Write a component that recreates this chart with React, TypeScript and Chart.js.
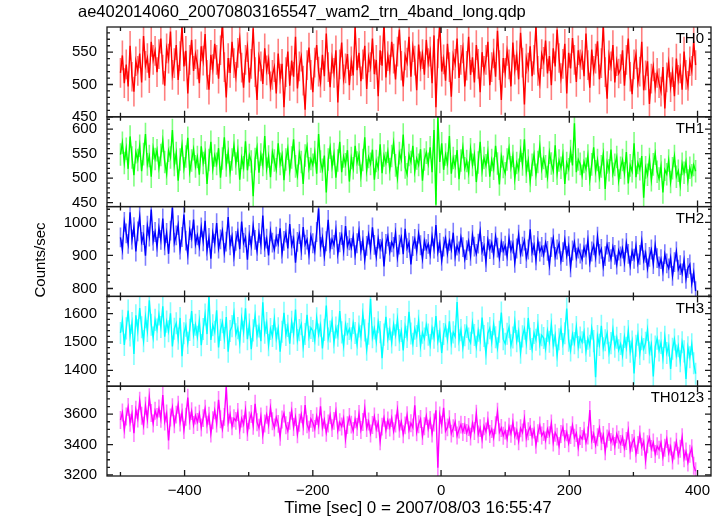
import React, { useEffect, useRef } from 'react';
import { Chart, registerables } from 'chart.js';

Chart.register(...registerables);

const TITLE = 'ae402014060_20070803165547_wam2_trn_4band_long.qdp';
const X_LABEL = 'Time [sec] 0 = 2007/08/03 16:55:47';
const Y_LABEL = 'Counts/sec';

const T_START = -500;
const T_STEP = 3;

const TH0 = [
  518, 545, 502, 531, 497, 560, 512, 489, 536, 521, 548, 503, 575, 529, 541, 510, 566, 538, 552, 519,
  547, 571, 523, 498, 556, 540, 582, 515, 533, 561, 507, 544, 590, 528, 552, 486, 538, 569, 521, 547,
  531, 502, 559, 537, 578, 515, 492, 546, 524, 563, 538, 509, 553, 595, 527, 480, 541, 518, 566, 533,
  512, 549, 571, 526, 495, 538, 558, 503, 532, 587, 519, 476, 543, 528, 501, 556, 522, 539, 497, 515,
  527, 486, 548, 509, 532, 465, 519, 551, 498, 537, 512, 574, 494, 528, 543, 506, 461, 530, 557, 515,
  488, 534, 561, 520, 503, 546, 513, 579, 527, 496, 540, 518, 553, 472, 531, 565, 508, 525, 547, 499,
  536, 514, 589, 522, 549, 505, 531, 560, 493, 542, 527, 571, 516, 538, 482, 553, 529, 597, 511, 544,
  523, 566, 540, 508, 551, 585, 529, 497, 545, 534, 574, 512, 558, 537, 491, 562, 528, 547, 515, 569,
  533, 551, 502, 576, 465, 548, 597, 520, 539, 506, 563, 527, 481, 545, 532, 571, 510, 538, 556, 497,
  529, 574, 515, 542, 503, 561, 532, 488, 550, 521, 538, 566, 499, 527, 548, 512, 583, 530, 476, 541,
  518, 552, 531, 497, 565, 523, 545, 508, 580, 534, 469, 540, 526, 559, 513, 538, 591, 521, 502, 547,
  535, 568, 517, 544, 499, 556, 528, 585, 541, 510, 532, 563, 486, 549, 525, 572, 538, 504, 553, 531,
  546, 513, 579, 530, 495, 554, 521, 540, 567, 508, 533, 592, 519, 478, 545, 528, 561, 503, 536, 517,
  524, 553, 498, 538, 571, 512, 485, 531, 547, 503, 520, 566, 491, 514, 536, 470, 509, 528, 495, 518,
  502, 489, 527, 463, 511, 534, 496, 519, 482, 540, 507, 525, 492, 551, 515, 498, 536, 521, 567, 530,
];

const TH1 = [
  548, 572, 531, 560, 519, 585, 542, 506, 553, 537, 566, 514, 549, 590, 528, 545, 503, 561, 539, 557,
  521, 547, 576, 533, 509, 556, 542, 598, 527, 551, 495, 538, 567, 520, 544, 582, 513, 536, 559, 524,
  543, 507, 565, 531, 552, 488, 537, 574, 519, 546, 529, 561, 501, 540, 583, 526, 553, 512, 538, 567,
  530, 556, 497, 541, 522, 575, 516, 547, 534, 463, 539, 562, 511, 548, 527, 586, 519, 544, 502, 553,
  536, 518, 571, 529, 547, 496, 538, 560, 515, 542, 579, 524, 505, 551, 533, 488, 546, 565, 520, 539,
  527, 553, 509, 590, 534, 517, 546, 471, 538, 562, 523, 549, 501, 536, 574, 512, 544, 528, 557, 493,
  541, 520, 566, 532, 548, 505, 537, 583, 516, 543, 529, 558, 497, 535, 521, 569, 510, 546, 531, 554,
  518, 545, 572, 526, 500, 551, 537, 589, 522, 508, 547, 533, 566, 514, 540, 527, 559, 495, 538, 552,
  529, 563, 512, 598, 446, 625, 533, 571, 517, 548, 530, 586, 509, 541, 524, 557, 498, 536, 563, 520,
  535, 511, 559, 527, 548, 492, 532, 574, 515, 541, 526, 553, 503, 537, 519, 566, 530, 487, 544, 523,
  510, 538, 561, 522, 545, 499, 531, 517, 556, 528, 579, 513, 536, 494, 527, 548, 507, 533, 565, 519,
  541, 524, 502, 552, 530, 515, 567, 509, 536, 521, 547, 488, 531, 518, 555, 526, 612, 512, 538, 529,
  505, 533, 519, 546, 497, 528, 563, 514, 537, 501, 524, 549, 478, 532, 516, 558, 509, 527, 543, 495,
  521, 537, 510, 553, 489, 526, 514, 571, 502, 531, 518, 545, 460, 522, 507, 539, 496, 528, 550, 513,
  499, 524, 471, 517, 508, 536, 492, 520, 545, 503, 515, 486, 529, 511, 533, 495, 521, 506, 527, 514,
];

const TH2 = [
  955, 918, 1002, 967, 935, 1031, 948, 986, 912, 973, 1018, 941, 962, 899, 990, 957, 1039, 944, 971, 926,
  983, 947, 1012, 931, 968, 905, 975, 1045, 939, 961, 992, 918, 956, 1024, 945, 903, 977, 952, 1009, 934,
  961, 927, 985, 943, 1005, 915, 953, 890, 968, 936, 998, 921, 949, 975, 908, 942, 1016, 931, 958, 897,
  944, 972, 919, 1003, 938, 955, 887, 962, 929, 990, 947, 913, 968, 934, 1021, 925, 951, 900, 973, 939,
  918, 957, 935, 982, 906, 944, 969, 921, 995, 930, 952, 878, 941, 965, 916, 986, 933, 948, 903, 960,
  937, 912, 971, 1042, 926, 955, 898, 943, 1008, 921, 949, 932, 976, 905, 940, 962, 915, 989, 928, 946,
  923, 958, 901, 937, 974, 914, 946, 887, 929, 963, 918, 985, 932, 896, 951, 920, 942, 867, 935, 958,
  911, 940, 926, 968, 895, 933, 955, 904, 981, 922, 939, 873, 928, 950, 913, 966, 931, 890, 944, 919,
  935, 903, 958, 921, 992, 910, 938, 884, 927, 952, 906, 944, 918, 969, 897, 930, 912, 955, 925, 888,
  916, 943, 899, 962, 927, 905, 936, 973, 911, 929, 880, 947, 919, 938, 901, 958, 924, 892, 940, 913,
  930, 897, 952, 915, 936, 878, 921, 963, 904, 927, 945, 892, 918, 979, 909, 931, 885, 944, 912, 926,
  901, 939, 914, 870, 925, 952, 896, 918, 936, 883, 910, 947, 899, 928, 864, 915, 940, 893, 921, 906,
  888, 924, 903, 946, 879, 912, 931, 894, 957, 905, 920, 866, 898, 933, 911, 889, 926, 902, 872, 915,
  897, 921, 880, 938, 905, 869, 913, 890, 929, 876, 902, 944, 885, 908, 861, 896, 918, 874, 931, 892,
  867, 889, 852, 904, 876, 861, 893, 838, 880, 912, 857, 871, 846, 885, 829, 862, 873, 815, 848, 792,
];

const TH3 = [
  1532, 1575, 1490, 1548, 1611, 1523, 1567, 1458, 1594, 1541, 1620, 1552, 1503, 1588, 1539, 1647, 1561, 1516, 1578, 1544,
  1597, 1553, 1626, 1519, 1572, 1538, 1601, 1484, 1547, 1566, 1512, 1585, 1450, 1531, 1558, 1497, 1543, 1609, 1525, 1561,
  1518, 1574, 1489, 1546, 1597, 1528, 1665, 1507, 1559, 1536, 1612, 1481, 1543, 1570, 1514, 1588, 1466, 1539, 1556, 1602,
  1527, 1549, 1498, 1583, 1536, 1619, 1510, 1562, 1475, 1541, 1593, 1522, 1555, 1503, 1640, 1533, 1567, 1489, 1546, 1521,
  1580, 1512, 1548, 1466, 1536, 1603, 1525, 1557, 1494, 1571, 1530, 1615, 1507, 1542, 1563, 1483, 1528, 1596, 1518, 1550,
  1539, 1505, 1584, 1526, 1558, 1477, 1543, 1629, 1512, 1537, 1574, 1498, 1551, 1522, 1609, 1534, 1487, 1561, 1529, 1546,
  1513, 1567, 1532, 1491, 1555, 1520, 1598, 1541, 1473, 1529, 1652, 1517, 1548, 1502, 1570, 1535, 1443, 1526, 1589, 1511,
  1545, 1498, 1562, 1524, 1581, 1507, 1539, 1470, 1553, 1518, 1607, 1530, 1494, 1547, 1521, 1575, 1486, 1533, 1512, 1560,
  1526, 1489, 1548, 1515, 1592, 1503, 1537, 1461, 1528, 1556, 1509, 1573, 1495, 1534, 1519, 1641, 1506, 1542, 1481, 1524,
  1553, 1512, 1497, 1568, 1525, 1483, 1540, 1506, 1586, 1521, 1459, 1531, 1549, 1500, 1563, 1517, 1478, 1536, 1604, 1510,
  1494, 1529, 1552, 1488, 1516, 1571, 1503, 1538, 1462, 1520, 1547, 1496, 1585, 1511, 1475, 1532, 1508, 1560, 1491, 1524,
  1514, 1476, 1539, 1501, 1562, 1488, 1523, 1452, 1510, 1546, 1493, 1531, 1618, 1505, 1470, 1527, 1496, 1553, 1482, 1516,
  1499, 1535, 1468, 1512, 1487, 1548, 1503, 1376, 1521, 1490, 1557, 1478, 1506, 1531, 1462, 1496, 1544, 1483, 1515, 1471,
  1493, 1452, 1518, 1480, 1539, 1466, 1502, 1389, 1487, 1526, 1458, 1510, 1475, 1497, 1543, 1463, 1491, 1378, 1484, 1512,
  1470, 1497, 1443, 1518, 1461, 1488, 1405, 1476, 1509, 1452, 1485, 1432, 1499, 1467, 1370, 1481, 1446, 1492, 1425, 1388,
];

const TH0123 = [
  3562, 3611, 3498, 3585, 3647, 3543, 3602, 3475, 3629, 3571, 3688, 3590, 3524, 3655, 3566, 3712, 3608, 3539, 3623, 3581,
  3637, 3569, 3725, 3552, 3604, 3427, 3578, 3645, 3533, 3597, 3662, 3545, 3611, 3496, 3583, 3709, 3557, 3620, 3529, 3591,
  3548, 3603, 3512, 3574, 3636, 3531, 3589, 3473, 3560, 3625, 3538, 3694, 3567, 3501, 3582, 3779, 3544, 3598, 3520, 3573,
  3556, 3614, 3495, 3571, 3533, 3627, 3482, 3559, 3601, 3524, 3668, 3547, 3510, 3585, 3462, 3538, 3596, 3529, 3641, 3553,
  3512, 3578, 3536, 3451, 3565, 3604, 3527, 3489, 3557, 3622, 3515, 3581, 3468, 3543, 3599, 3521, 3660, 3534, 3497, 3569,
  3544, 3503, 3587, 3526, 3651, 3512, 3563, 3478, 3539, 3594, 3508, 3556, 3620, 3493, 3547, 3519, 3573, 3436, 3528, 3582,
  3531, 3489, 3567, 3515, 3602, 3496, 3548, 3637, 3509, 3552, 3473, 3529, 3585, 3501, 3544, 3422, 3518, 3576, 3495, 3559,
  3512, 3574, 3487, 3539, 3628, 3503, 3551, 3468, 3526, 3593, 3494, 3540, 3512, 3659, 3481, 3533, 3568, 3456, 3521, 3587,
  3504, 3562, 3473, 3545, 3625, 3247, 3592, 3530, 3641, 3488, 3513, 3566, 3472, 3507, 3548, 3459, 3498, 3531, 3482, 3529,
  3476, 3515, 3452, 3540, 3489, 3603, 3467, 3508, 3433, 3521, 3486, 3559, 3470, 3502, 3445, 3527, 3616, 3481, 3509, 3458,
  3492, 3437, 3518, 3471, 3546, 3455, 3493, 3422, 3507, 3479, 3568, 3442, 3487, 3516, 3451, 3498, 3398, 3474, 3526, 3459,
  3483, 3427, 3502, 3461, 3539, 3414, 3478, 3452, 3391, 3469, 3513, 3436, 3481, 3408, 3462, 3527, 3445, 3475, 3382, 3456,
  3437, 3491, 3413, 3459, 3627, 3428, 3470, 3396, 3448, 3509, 3421, 3463, 3355, 3440, 3482, 3417, 3452, 3390, 3468, 3431,
  3404, 3449, 3376, 3423, 3492, 3361, 3411, 3439, 3340, 3397, 3467, 3385, 3420, 3296, 3402, 3445, 3371, 3413, 3338, 3389,
  3366, 3412, 3318, 3379, 3437, 3343, 3387, 3295, 3361, 3419, 3327, 3372, 3448, 3309, 3354, 3282, 3339, 3376, 3261, 3224,
];

const SERIES = [TH0, TH1, TH2, TH3, TH0123];
const PANEL_NAMES = ['TH0', 'TH1', 'TH2', 'TH3', 'TH0123'];
const ERRORS = [23, 23, 30, 39, 59];
const Y_MIN = [450, 442, 776, 1344, 3193];
const Y_MAX = [589, 625, 1048, 1661, 3784];
const Y_TICKS = [
  [450, 500, 550],
  [450, 500, 550, 600],
  [800, 900, 1000],
  [1400, 1500, 1600],
  [3200, 3400, 3600],
];
const Y_MINOR = [10, 10, 20, 20, 50];
const X_MIN = -521;
const X_MAX = 421;
const X_TICKS = [-400, -200, 0, 200, 400];
const X_MINOR = 100;

const COLORS = ['#ff0000', '#00ff00', '#0000ff', '#00ffff', '#ff00ff'];
const ERR_COLORS = [
  'rgba(255,0,0,0.5)',
  'rgba(0,255,0,0.5)',
  'rgba(0,0,255,0.5)',
  'rgba(0,255,255,0.5)',
  'rgba(255,0,255,0.5)',
];

const FONT_FAMILY = '"Liberation Sans", Arial, Helvetica, sans-serif';
const FONT_SIZE = 15;
const TITLE_SIZE = 16.5;
const XLABEL_SIZE = 17;

const qdpPlugin = {
  id: 'qdpFrames',
  beforeDatasetDraw(chart: any, args: any) {
    const ctx = chart.ctx;
    const meta = args.meta;
    const i = args.index;
    const ys = chart.scales[meta.yAxisID];
    const xs = chart.scales.x;
    const area = chart.chartArea;
    ctx.save();
    ctx.beginPath();
    ctx.rect(area.left, ys.top, area.right - area.left, ys.bottom - ys.top);
    ctx.clip();
    ctx.strokeStyle = ERR_COLORS[i];
    ctx.lineWidth = 1.6;
    ctx.beginPath();
    const vals = SERIES[i];
    const e = ERRORS[i];
    for (let j = 0; j < vals.length; j++) {
      const px = xs.getPixelForValue(T_START + j * T_STEP);
      ctx.moveTo(px, ys.getPixelForValue(vals[j] - e));
      ctx.lineTo(px, ys.getPixelForValue(vals[j] + e));
    }
    ctx.stroke();
  },
  afterDatasetDraw(chart: any) {
    chart.ctx.restore();
  },
  afterDraw(chart: any) {
    const ctx = chart.ctx;
    const area = chart.chartArea;
    const xs = chart.scales.x;
    ctx.save();
    ctx.strokeStyle = '#1a1a1a';
    ctx.lineWidth = 1.3;
    for (let i = 0; i < PANEL_NAMES.length; i++) {
      const ys = chart.scales['y' + i];
      const top = ys.top;
      const bottom = ys.bottom;
      ctx.strokeRect(area.left, top, area.right - area.left, bottom - top);
      ctx.beginPath();
      const first = Math.ceil(Y_MIN[i] / Y_MINOR[i]) * Y_MINOR[i];
      for (let v = first; v <= Y_MAX[i]; v += Y_MINOR[i]) {
        const py = ys.getPixelForValue(v);
        const len = Y_TICKS[i].includes(v) ? 6 : 3;
        ctx.moveTo(area.left, py);
        ctx.lineTo(area.left + len, py);
        ctx.moveTo(area.right, py);
        ctx.lineTo(area.right - len, py);
      }
      const fx = Math.ceil(X_MIN / X_MINOR) * X_MINOR;
      for (let t = fx; t <= X_MAX; t += X_MINOR) {
        const px = xs.getPixelForValue(t);
        const len = X_TICKS.includes(t) ? 6 : 4;
        ctx.moveTo(px, top);
        ctx.lineTo(px, top + len);
        ctx.moveTo(px, bottom);
        ctx.lineTo(px, bottom - len);
      }
      ctx.stroke();
      ctx.fillStyle = '#000';
      ctx.font = `${FONT_SIZE}px ${FONT_FAMILY}`;
      ctx.textAlign = 'right';
      ctx.textBaseline = 'middle';
      ctx.fillText(PANEL_NAMES[i], area.right - 7, top + 12);
    }
    ctx.fillStyle = '#000';
    ctx.textBaseline = 'middle';
    ctx.font = `${TITLE_SIZE}px ${FONT_FAMILY}`;
    ctx.textAlign = 'left';
    ctx.fillText(TITLE, 78, 12);
    ctx.font = `${XLABEL_SIZE}px ${FONT_FAMILY}`;
    ctx.textAlign = 'center';
    ctx.fillText(X_LABEL, 418, 508);
    ctx.font = `${FONT_SIZE}px ${FONT_FAMILY}`;
    ctx.save();
    ctx.translate(41, 260);
    ctx.rotate(-Math.PI / 2);
    ctx.fillText(Y_LABEL, 0, 0);
    ctx.restore();
    ctx.restore();
  },
};

export default function App() {
  const canvasRef = useRef<HTMLCanvasElement | null>(null);

  useEffect(() => {
    const canvas = canvasRef.current;
    if (!canvas) return;
    const font = { family: FONT_FAMILY, size: FONT_SIZE };
    const times = TH0.map((_, j) => T_START + j * T_STEP);

    const yScales: any = {};
    PANEL_NAMES.forEach((_, i) => {
      yScales['y' + i] = {
        type: 'linear',
        position: 'left',
        stack: 'panels',
        stackWeight: 1,
        weight: PANEL_NAMES.length - i,
        min: Y_MIN[i],
        max: Y_MAX[i],
        grid: { display: false, drawTicks: false },
        border: { display: false },
        afterBuildTicks: (s: any) => {
          s.ticks = Y_TICKS[i].map((v) => ({ value: v }));
        },
        ticks: {
          autoSkip: false,
          padding: 10,
          color: '#000',
          font,
          callback: (v: any) => String(v),
        },
        afterFit: (s: any) => {
          s.width = 107;
        },
      };
    });

    const chart = new Chart(canvas, {
      type: 'line',
      data: {
        datasets: SERIES.map((vals, i) => ({
          label: PANEL_NAMES[i],
          data: vals.map((v, j) => ({ x: times[j], y: v })),
          yAxisID: 'y' + i,
          borderColor: COLORS[i],
          backgroundColor: COLORS[i],
          borderWidth: 1.4,
          pointRadius: 0,
          tension: 0,
          fill: false,
        })),
      },
      options: {
        animation: false,
        responsive: false,
        devicePixelRatio: 1,
        layout: { padding: { top: 27, right: 13, left: 0, bottom: 0 } },
        plugins: { legend: { display: false }, tooltip: { enabled: false }, title: { display: false } },
        scales: {
          x: {
            type: 'linear',
            min: X_MIN,
            max: X_MAX,
            grid: { display: false, drawTicks: false },
            border: { display: false },
            afterBuildTicks: (s: any) => {
              s.ticks = X_TICKS.map((v) => ({ value: v }));
            },
            ticks: {
              autoSkip: false,
              maxRotation: 0,
              padding: 6,
              color: '#000',
              font,
              callback: (v: any) => String(v).replace('-', '\u2212'),
            },
            afterFit: (s: any) => {
              s.height = 40;
            },
          },
          ...yScales,
        },
      } as any,
      plugins: [qdpPlugin],
    });
    return () => chart.destroy();
  }, []);

  return (
    <div style={{ position: 'absolute', left: 0, top: 0, width: 724, height: 516, background: '#fff' }}>
      <canvas ref={canvasRef} width={724} height={516} style={{ width: 724, height: 516, display: 'block' }} />
    </div>
  );
}
